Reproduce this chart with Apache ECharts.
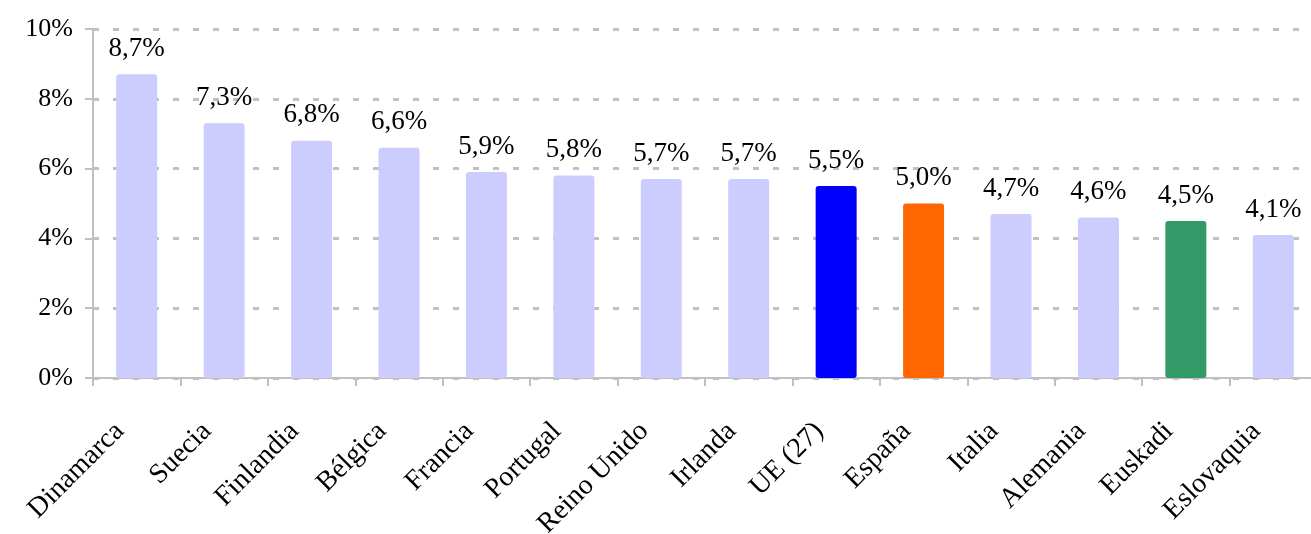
<!DOCTYPE html>
<html>
<head>
<meta charset="utf-8">
<script src="https://cdn.jsdelivr.net/npm/echarts@6/dist/echarts.min.js"></script>
<style>
  html, body { margin: 0; padding: 0; background: #fff; }
  #chart { width: 1311px; height: 534px; }
</style>
</head>
<body>
<div id="chart"></div>
<script>
var chart = echarts.init(document.getElementById('chart'));

var paises = ['Dinamarca', 'Suecia', 'Finlandia', 'Bélgica', 'Francia', 'Portugal', 'Reino Unido',
    'Irlanda', 'UE (27)', 'España', 'Italia', 'Alemania', 'Euskadi', 'Eslovaquia'];
var valores = [8.7, 7.3, 6.8, 6.6, 5.9, 5.8, 5.7, 5.7, 5.5, 5.0, 4.7, 4.6, 4.5, 4.1];
var yTicks = [0, 2, 4, 6, 8, 10];

// colores destacados
var colorBase = '#ccccff';
var destacados = {
    'UE (27)': '#0000ff',
    'España': '#ff6600',
    'Euskadi': '#339966'
};

var fuente = '"Liberation Serif", "DejaVu Serif", serif';

var datos = valores.map(function (v, i) {
    return {
        value: v,
        itemStyle: { color: destacados[paises[i]] || colorBase }
    };
});

var option = {
    animation: false,
    grid: { left: 93, right: -6, top: 29, bottom: 156, outerBoundsMode: 'none', containLabel: false },
    xAxis: {
        type: 'category',
        data: paises,
        axisLine: { lineStyle: { color: '#c0c0c0', width: 2 } },
        axisTick: { show: true, length: 8, lineStyle: { color: '#c0c0c0', width: 2 } },
        axisLabel: {
            rotate: 45,
            margin: 32,
            padding: [0, 24, 0, 0],
            interval: 0,
            color: '#000',
            fontFamily: fuente,
            fontSize: 28
        }
    },
    yAxis: {
        type: 'value',
        min: yTicks[0],
        max: yTicks[yTicks.length - 1],
        interval: 2,
        axisLine: { show: true, lineStyle: { color: '#c0c0c0', width: 2 } },
        axisTick: { show: true, length: 8, lineStyle: { color: '#c0c0c0', width: 2 } },
        axisLabel: {
            formatter: '{value}%',
            margin: 20,
            color: '#000',
            fontFamily: fuente,
            fontSize: 26
        },
        splitLine: {
            lineStyle: { color: '#c0c0c0', width: 3, type: [6, 14] }
        }
    },
    series: [{
        type: 'bar',
        data: datos,
        barWidth: 41,
        itemStyle: { borderRadius: 3 },
        label: {
            show: true,
            position: 'top',
            distance: 12,
            color: '#000',
            fontFamily: fuente,
            fontSize: 27,
            formatter: function (p) {
                return p.value.toFixed(1).replace('.', ',') + '%';
            }
        }
    }]
};

chart.setOption(option);
window.onresize = function () { chart.resize(); };
</script>
</body>
</html>
